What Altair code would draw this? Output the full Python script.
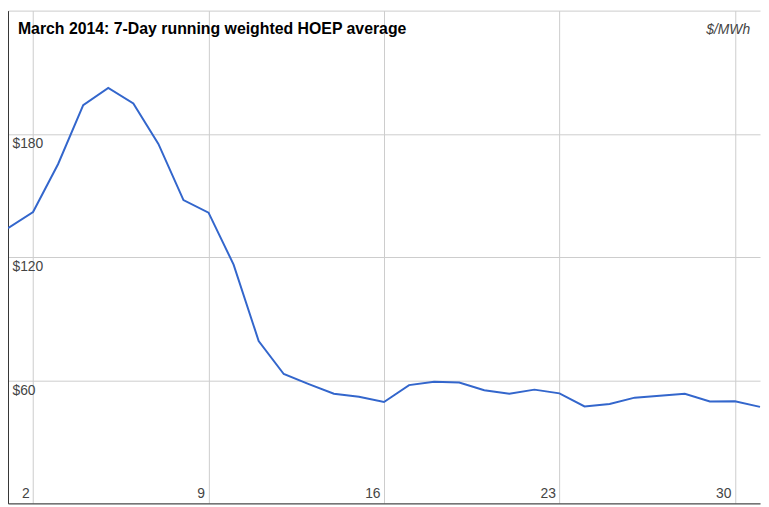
import altair as alt
import pandas as pd

days = list(range(1, 32))
hoep = [134.0, 141.9, 165.3, 194.0, 202.3, 194.8, 175.1, 147.7, 141.6, 116.3,
        79.1, 63.0, 58.1, 53.4, 51.9, 49.4, 57.6, 59.2, 58.9, 55.1,
        53.4, 55.4, 53.6, 47.2, 48.4, 51.5, 52.4, 53.4, 49.6, 49.7, 47.0]
x_ticks = [2, 9, 16, 23, 30]
y_ticks = [0, 60, 120, 180, 240]
title_text = "March 2014: 7-Day running weighted HOEP average"
unit_text = "$/MWh"

W, H = 760, 498
FONT = "Liberation Sans"

df = pd.DataFrame({"day": days, "hoep": hoep})

line = alt.Chart(df).mark_line(color="#3366cc", strokeWidth=2).encode(
    x=alt.X(
        "day:Q",
        scale=alt.Scale(domain=[1, 31], nice=False, zero=False),
        axis=alt.Axis(
            values=x_ticks, title=None, grid=True, gridColor="#cccccc",
            ticks=False, tickSize=0, domain=True, domainColor="#333333",
            labelAlign="right", labelBaseline="alphabetic", labelPadding=-6,
            labelOffset=-4, labelFontSize=14, labelColor="#444444",
            labelFont=FONT, labelFlush=False, labelOverlap=False, labelBound=False,
        ),
    ),
    y=alt.Y(
        "hoep:Q",
        scale=alt.Scale(domain=[0, 240], nice=False),
        axis=alt.Axis(
            values=y_ticks, title=None, grid=True, gridColor="#cccccc",
            ticks=False, tickSize=0, domain=True, domainColor="#333333",
            labelAlign="left", labelBaseline="top", labelPadding=-4,
            labelOffset=3, labelFontSize=14, labelColor="#444444",
            labelFont=FONT, labelFlush=False, labelOverlap=False, labelBound=False,
            labelExpr="datum.value == 0 || datum.value == 240 ? '' : '$' + datum.label",
        ),
    ),
)

title = alt.Chart(pd.DataFrame({"t": [title_text]})).mark_text(
    align="left", baseline="alphabetic", font=FONT, fontSize=16,
    fontWeight="bold", color="#000000",
).encode(text="t:N", x=alt.value(10), y=alt.value(24))

unit = alt.Chart(pd.DataFrame({"t": [unit_text]})).mark_text(
    align="right", baseline="alphabetic", font=FONT, fontSize=14,
    fontStyle="italic", color="#444444",
).encode(text="t:N", x=alt.value(W - 10), y=alt.value(24))

chart = alt.layer(line, title, unit).properties(
    width=W, height=H, autosize="none",
    padding={"left": 0, "top": 0, "right": 1, "bottom": 1},
    background="white",
).configure_view(stroke=None)

chart.save("out.html", embed_options={"renderer": "svg", "actions": False})
